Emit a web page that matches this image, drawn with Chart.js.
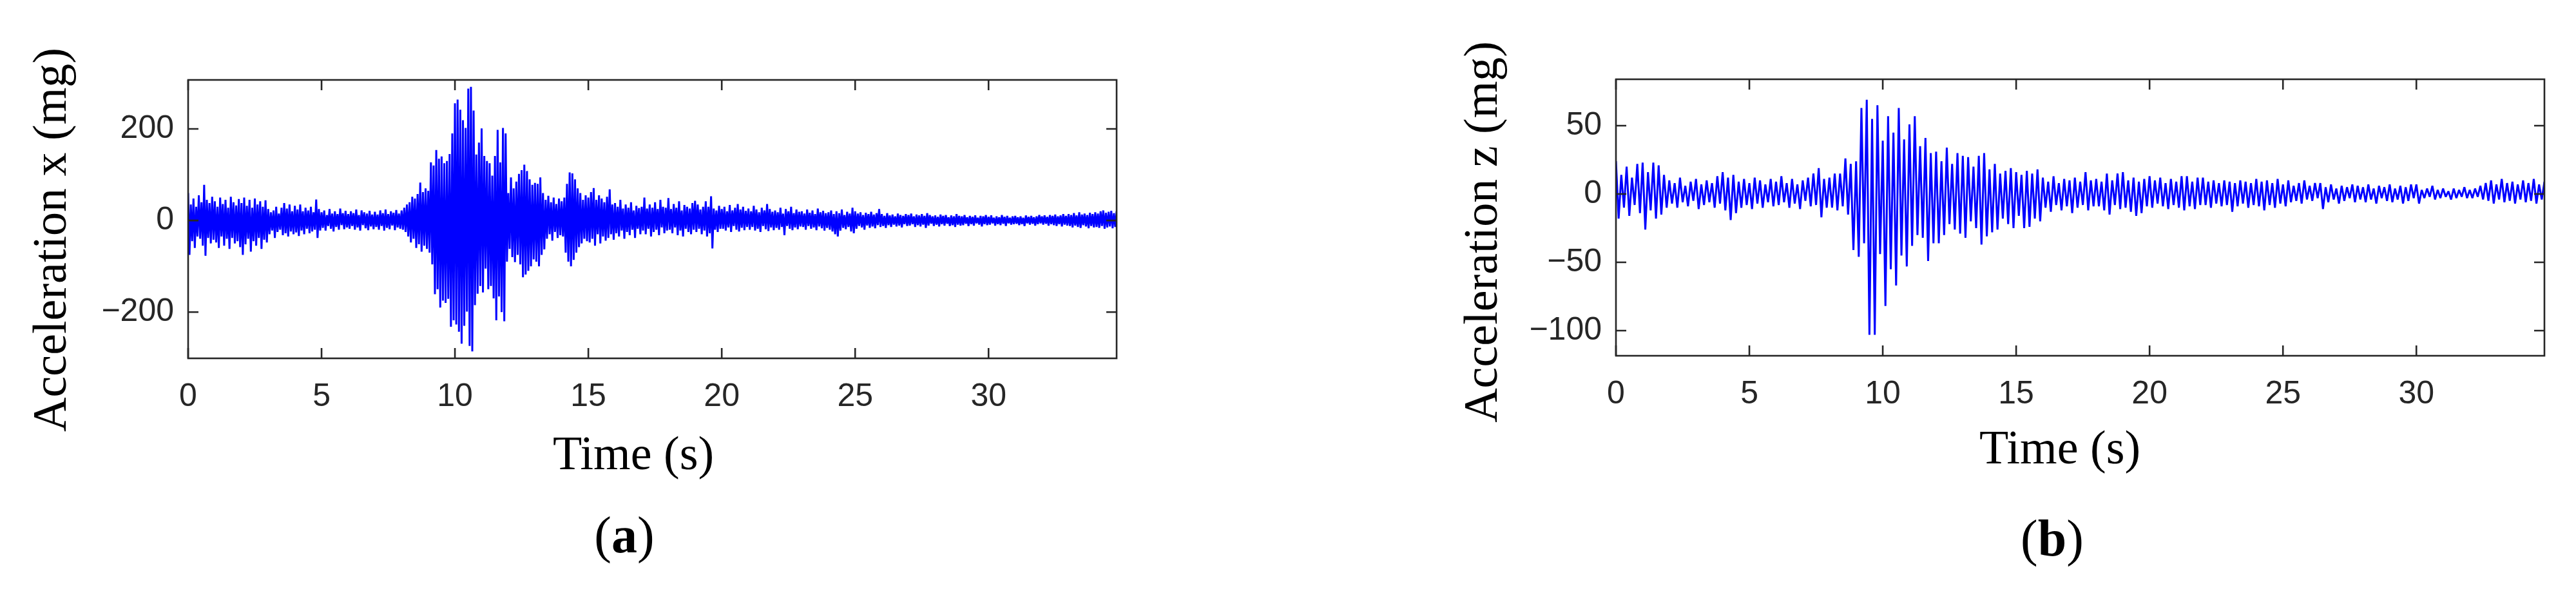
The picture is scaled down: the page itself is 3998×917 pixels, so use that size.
<!DOCTYPE html>
<html>
<head>
<meta charset="utf-8">
<script src="https://cdn.jsdelivr.net/npm/chart.js"></script>
<style>
  html, body { margin: 0; padding: 0; background: #fff; overflow: hidden; }
  #wrap { position: relative; width: 3998px; height: 917px; }
  canvas { position: absolute; top: 0; }
</style>
</head>
<body>
<div id="wrap">
  <canvas id="chartX" width="1999" height="917" style="left:0;width:1999px;height:917px"></canvas>
  <canvas id="chartZ" width="1999" height="917" style="left:1999px;width:1999px;height:917px"></canvas>
</div>
<script>
// time ticks (s) and acceleration ticks (mg)
const timeTicks = [0, 5, 10, 15, 20, 25, 30];
const xAccTicks = [-200, 0, 200];
const zAccTicks = [-100, -50, 0, 50];

// x-acceleration: upper peaks every 0.1 s (t = 0 .. 34.8), lower peaks half a step later
const xPos = [
  60, 35, 48, 30, 55, 40, 78, 45, 38, 52,
  42, 30, 50, 36, 45, 28, 52, 40, 33, 47,
  38, 50, 32, 45, 28, 48, 35, 42, 30, 44,
  25, 18, 22, 30, 15, 28, 38, 26, 35, 20,
  32, 24, 35, 20, 28, 22, 30, 18, 46, 25,
  18, 22, 12, 25, 15, 20, 14, 26, 16, 21,
  14, 20, 16, 24, 12, 22, 18, 15, 21, 13,
  19, 13, 22, 16, 24, 14, 20, 17, 23, 15,
  22, 28, 35, 40, 52, 48, 58, 83, 62, 70,
  65, 127, 120, 154, 135, 140, 125, 130, 145, 190,
  256, 264, 242, 219, 202, 288, 292, 240, 144, 170,
  201, 141, 130, 125, 98, 141, 198, 127, 202, 190,
  60, 94, 70, 85, 102, 110, 122, 108, 90, 78,
  82, 80, 94, 60, 45, 54, 40, 50, 36, 48,
  42, 50, 80, 105, 103, 90, 70, 60, 45, 55,
  50, 62, 71, 45, 55, 48, 40, 52, 68, 35,
  38, 30, 45, 26, 35, 28, 40, 22, 32, 27,
  30, 50, 26, 35, 28, 40, 25, 45, 30, 28,
  49, 25, 36, 28, 42, 22, 34, 30, 26, 38,
  43, 35, 24, 30, 42, 30, 53, 26, 22, 32,
  25, 30, 20, 34, 22, 28, 36, 24, 30, 21,
  26, 20, 32, 24, 18, 28, 22, 36, 25, 19,
  22, 18, 28, 15, 25, 20, 30, 16, 24, 19,
  20, 15, 24, 17, 22, 14, 26, 18, 21, 16,
  18, 22, 14, 20, 16, 24, 12, 19, 15, 28,
  20, 15, 18, 12, 17, 14, 19, 13, 16, 25,
  14, 10, 16, 11, 13, 9, 15, 12, 10, 14,
  12, 15, 9, 13, 11, 14, 10, 16, 12, 9,
  11, 8, 13, 10, 12, 7, 11, 9, 14, 10,
  9, 12, 7, 10, 8, 11, 6, 10, 9, 12,
  8, 11, 6, 9, 7, 12, 8, 10, 6, 9,
  10, 7, 9, 6, 11, 8, 10, 7, 9, 12,
  9, 11, 8, 12, 10, 13, 9, 11, 14, 10,
  14, 12, 16, 11, 18, 13, 15, 12, 17, 14,
  18, 15, 20, 22, 17, 19, 21, 16, 20
];
const xNeg = [
  -75, -45, -60, -35, -40, -55, -77, -38, -50, -42,
  -48, -60, -35, -55, -40, -62, -38, -50, -45, -58,
  -75, -52, -40, -68, -45, -55, -38, -62, -42, -48,
  -30, -22, -38, -25, -20, -32, -28, -35, -24, -30,
  -26, -34, -22, -30, -18, -28, -24, -20, -38, -22,
  -16, -22, -12, -18, -24, -14, -20, -10, -19, -15,
  -18, -12, -20, -15, -22, -10, -17, -21, -13, -19,
  -14, -20, -12, -22, -16, -19, -11, -21, -15, -18,
  -20, -25, -35, -48, -40, -60, -52, -68, -55, -62,
  -70, -96, -161, -150, -190, -175, -180, -171, -232, -218,
  -227, -243, -269, -230, -199, -274, -286, -185, -160, -143,
  -157, -105, -150, -143, -170, -218, -166, -200, -220, -90,
  -62, -80, -91, -75, -96, -124, -118, -110, -100, -85,
  -90, -100, -75, -63, -40, -30, -44, -25, -38, -32,
  -35, -70, -90, -100, -86, -70, -58, -50, -40, -45,
  -48, -40, -55, -30, -50, -35, -44, -38, -30, -42,
  -28, -35, -22, -40, -25, -32, -20, -38, -18, -30,
  -22, -30, -18, -35, -25, -20, -32, -15, -28, -22,
  -20, -28, -15, -32, -22, -35, -18, -25, -30, -20,
  -25, -18, -30, -22, -35, -28, -61, -20, -25, -18,
  -18, -22, -15, -25, -12, -20, -24, -16, -21, -14,
  -20, -14, -22, -18, -25, -12, -19, -23, -15, -21,
  -16, -20, -14, -32, -12, -18, -21, -15, -19, -13,
  -14, -20, -12, -18, -15, -21, -13, -17, -22, -16,
  -20, -24, -30, -35, -22, -16, -19, -14, -24, -28,
  -18, -12, -15, -20, -11, -16, -13, -17, -10, -14,
  -12, -16, -10, -14, -9, -13, -11, -15, -8, -12,
  -11, -8, -14, -10, -13, -9, -16, -11, -7, -12,
  -9, -13, -8, -11, -7, -12, -10, -14, -9, -11,
  -10, -7, -12, -8, -11, -6, -9, -13, -8, -10,
  -9, -6, -11, -8, -10, -7, -12, -6, -9, -8,
  -7, -10, -8, -12, -6, -9, -7, -11, -8, -6,
  -9, -7, -11, -8, -10, -12, -8, -13, -9, -11,
  -12, -15, -11, -14, -16, -10, -13, -17, -12, -15,
  -14, -16, -12, -18, -15, -13, -17, -14, -16
];

// z-acceleration: upper peaks every 0.2 s (t = 0 .. 34.8), lower peaks half a step later
const zPos = [
  24, 14, 20, 12, 22, 23, 16, 23, 21, 14,
  10, 8, 12, 6, 9, 11, 7, 10, 8, 13,
  16, 12, 14, 9, 11, 8, 12, 10, 7, 11,
  9, 13, 8, 11, 7, 10, 12, 15, 19, 11,
  12, 15, 15, 26, 22, 24, 63, 69, 55, 65,
  39, 57, 45, 63, 40, 51, 57, 35, 41, 30,
  31, 24, 34, 22, 30, 28, 27, 20, 28, 30,
  18, 22, 15, 17, 19, 16, 14, 17, 15, 18,
  12, 9, 13, 8, 11, 10, 12, 9, 16, 10,
  11, 9, 15, 10, 15, 16, 10, 12, 9, 11,
  13, 10, 12, 8, 11, 9, 13, 13, 9, 12,
  12, 9, 10, 8, 10, 9, 8, 10, 9, 8,
  11, 9, 10, 8, 11, 7, 10, 6, 8, 10,
  6, 8, 8, 5, 7, 4, 6, 5, 7, 6,
  5, 7, 4, 6, 5, 7, 4, 6, 5, 7,
  7, 3, 4, 6, 3, 4, 2, 4, 3, 5,
  3, 4, 6, 8, 10, 7, 11, 8, 9, 7,
  10, 8, 11, 7, 9
];
const zNeg = [
  -18, -10, -16, -8, -14, -26, -12, -18, -15, -10,
  -7, -10, -6, -9, -5, -11, -8, -6, -10, -7,
  -12, -19, -14, -10, -8, -11, -7, -10, -6, -9,
  -8, -6, -10, -7, -11, -5, -9, -8, -17, -10,
  -10, -12, -9, -15, -41, -46, -36, -103, -103, -44,
  -82, -55, -67, -45, -53, -38, -30, -32, -49, -36,
  -36, -30, -22, -26, -29, -32, -20, -25, -37, -31,
  -28, -26, -18, -22, -25, -16, -25, -24, -18, -20,
  -10, -13, -8, -12, -9, -14, -10, -8, -12, -9,
  -9, -12, -15, -8, -11, -10, -13, -16, -14, -9,
  -10, -7, -9, -11, -8, -10, -12, -9, -11, -8,
  -8, -10, -7, -9, -8, -13, -9, -7, -10, -8,
  -9, -12, -8, -10, -7, -9, -6, -5, -7, -4,
  -5, -3, -11, -6, -4, -7, -5, -3, -6, -4,
  -6, -4, -7, -3, -5, -6, -4, -7, -5, -3,
  -7, -3, -2, -4, -3, -2, -4, -3, -2, -3,
  -3, -2, -4, -5, -7, -4, -6, -5, -7, -4,
  -6, -5, -7, -4, -6
];

// pair up the peaks into one trace
const interleave = (pos, neg, step) => {
  const pts = [];
  pos.forEach((p, i) => {
    pts.push({ x: i * step, y: p });
    pts.push({ x: i * step + step / 2, y: neg[i] });
  });
  return pts;
};

const tickFont = { family: "'Liberation Sans', Arial, sans-serif", size: 50 };
const axisColor = "#262626";
const minus = (v) => (v < 0 ? "\u2212" + Math.abs(v) : String(v));

// box round the plot with inward ticks on all four sides
const frame = {
  id: "frame",
  afterDatasetsDraw(chart) {
    const { ctx, chartArea: a, scales } = chart;
    const len = 16;
    ctx.save();
    ctx.strokeStyle = axisColor;
    ctx.lineWidth = 2.6;
    ctx.strokeRect(a.left, a.top, a.right - a.left, a.bottom - a.top);
    ctx.beginPath();
    scales.x.ticks.forEach((t) => {
      const px = scales.x.getPixelForValue(t.value);
      ctx.moveTo(px, a.bottom);
      ctx.lineTo(px, a.bottom - len);
      ctx.moveTo(px, a.top);
      ctx.lineTo(px, a.top + len);
    });
    scales.y.ticks.forEach((t) => {
      const py = scales.y.getPixelForValue(t.value);
      ctx.moveTo(a.left, py);
      ctx.lineTo(a.left + len, py);
      ctx.moveTo(a.right, py);
      ctx.lineTo(a.right - len, py);
    });
    ctx.stroke();
    ctx.restore();
  },
};

// axis titles and the panel letter
const captions = {
  id: "captions",
  afterDraw(chart, args, o) {
    const ctx = chart.ctx;
    ctx.save();
    ctx.fillStyle = "#000";
    ctx.textBaseline = "alphabetic";
    ctx.textAlign = "center";
    ctx.font = "74px 'Liberation Serif', 'Times New Roman', serif";
    ctx.save();
    ctx.translate(o.yTitleX, o.yTitleY);
    ctx.rotate(-Math.PI / 2);
    ctx.fillText(o.yTitle, 0, 0);
    ctx.restore();
    ctx.fillText(o.xTitle, o.xTitleX, o.xTitleY);

    // "(a)" with a bold letter
    const reg = "80px 'Liberation Serif', 'Times New Roman', serif";
    const bold = "bold 80px 'Liberation Serif', 'Times New Roman', serif";
    ctx.textAlign = "left";
    ctx.font = reg;
    const wl = ctx.measureText("(").width;
    const wr = ctx.measureText(")").width;
    ctx.font = bold;
    const wm = ctx.measureText(o.tag).width;
    let x = o.tagX - (wl + wm + wr) / 2;
    ctx.font = reg;
    ctx.fillText("(", x, o.tagY);
    x += wl;
    ctx.font = bold;
    ctx.fillText(o.tag, x, o.tagY);
    x += wm;
    ctx.font = reg;
    ctx.fillText(")", x, o.tagY);
    ctx.restore();
  },
};

const makeConfig = (points, yMin, yMax, yTicks, box, cap) => ({
  type: "line",
  data: {
    datasets: [
      {
        data: points,
        borderColor: "#0000ff",
        borderWidth: 3,
        borderJoinStyle: "bevel",
        pointRadius: 0,
        tension: 0,
      },
    ],
  },
  options: {
    responsive: false,
    animation: false,
    devicePixelRatio: 1,
    layout: { padding: { left: 0, top: box.top, right: box.right, bottom: 0 } },
    scales: {
      x: {
        type: "linear",
        min: 0,
        max: 34.8,
        afterBuildTicks: (s) => {
          s.ticks = timeTicks.map((v) => ({ value: v }));
        },
        afterFit: (s) => {
          s.height = box.xHeight;
        },
        grid: { display: false, drawTicks: false },
        border: { display: false },
        ticks: { font: tickFont, color: axisColor, padding: 30, maxRotation: 0, autoSkip: false },
      },
      y: {
        type: "linear",
        min: yMin,
        max: yMax,
        afterBuildTicks: (s) => {
          s.ticks = yTicks.map((v) => ({ value: v }));
        },
        afterFit: (s) => {
          s.width = box.yWidth;
        },
        grid: { display: false, drawTicks: false },
        border: { display: false },
        ticks: { font: tickFont, color: axisColor, padding: 22, callback: minus },
      },
    },
    plugins: {
      legend: { display: false },
      tooltip: { enabled: false },
      captions: cap,
    },
  },
  plugins: [frame, captions],
});

new Chart(
  document.getElementById("chartX"),
  makeConfig(
    interleave(xPos, xNeg, 0.1),
    -301,
    307,
    xAccTicks,
    { top: 124, right: 266, xHeight: 361, yWidth: 292 },
    {
      yTitle: "Acceleration x (mg)", yTitleX: 102, yTitleY: 372,
      xTitle: "Time (s)", xTitleX: 983, xTitleY: 728,
      tag: "a", tagX: 969, tagY: 857,
    }
  )
);

new Chart(
  document.getElementById("chartZ"),
  makeConfig(
    interleave(zPos, zNeg, 0.2),
    -118.4,
    84,
    zAccTicks,
    { top: 123, right: 49, xHeight: 365, yWidth: 509 },
    {
      yTitle: "Acceleration z (mg)", yTitleX: 324, yTitleY: 360,
      xTitle: "Time (s)", xTitleX: 1198, xTitleY: 719,
      tag: "b", tagX: 1186, tagY: 862,
    }
  )
);
</script>
</body>
</html>
